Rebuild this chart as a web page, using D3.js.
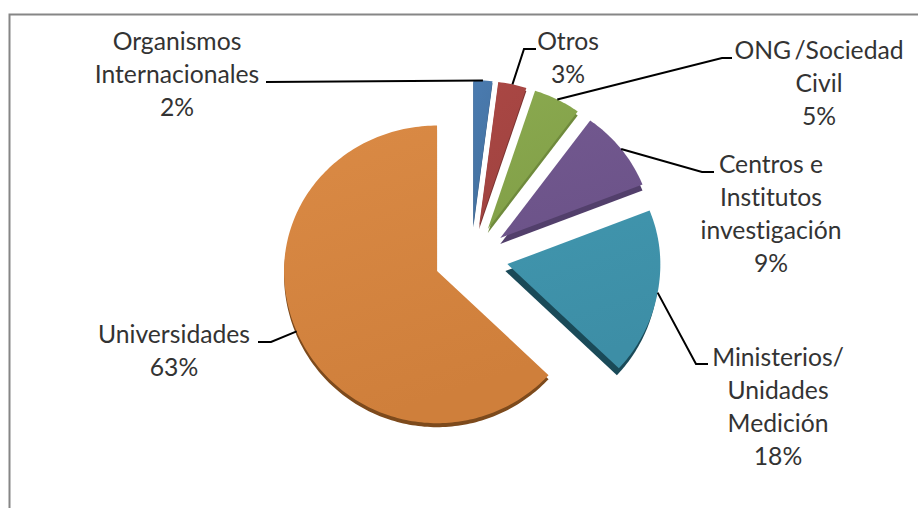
<!DOCTYPE html>
<html>
<head>
<meta charset="utf-8">
<script src="https://cdn.jsdelivr.net/npm/d3@7"></script>
<style>
  html, body { margin: 0; padding: 0; background: #fff; }
  svg { display: block; }
</style>
</head>
<body>
<div id="chart"></div>
<script>
const categories = ["Organismos Internacionales", "Otros", "ONG /Sociedad Civil", "Centros e Institutos investigación", "Ministerios/ Unidades Medición", "Universidades"];
const shares = [2, 3, 5, 9, 18, 63];
const colors_top = ["#4a7bb0", "#aa4744", "#8aa94f", "#72588f", "#4095ad", "#da8a45"];
const colors_bottom = ["#44719f", "#a04340", "#82a048", "#6c5389", "#3d8ea6", "#cf7f3b"];
const colors_side = ["#2f5078", "#7a3230", "#6f8a3c", "#523f6b", "#1a4a58", "#7d4a1c"];
const label_lines = [
    ["Organismos", "Internacionales", "2%"],
    ["Otros", "3%"],
    ["ONG /Sociedad", "Civil", "5%"],
    ["Centros e", "Institutos", "investigación", "9%"],
    ["Ministerios/", "Unidades", "Medición", "18%"],
    ["Universidades", "63%"]
];

const width = 918, height = 508;

const svg = d3.select("#chart")
    .append("svg")
    .attr("width", width)
    .attr("height", height);

// frame, only top and left show inside the crop
svg.append("path")
    .attr("d", "M9.5,508V14.5H918")
    .attr("fill", "none")
    .attr("stroke", "#868686")
    .attr("stroke-width", 2);

const cx = 471, cy = 258;
const radius = 153;
const explode = 37;
const depths = [2, 3, 4, 6, 7, 4];

// the pie is tilted: back half looks flatter than the front half
function project(angle, r) {
    const c = Math.cos(angle);
    const tilt = c > 0 ? 0.95 : 0.995;
    return [r * Math.sin(angle), -r * c * tilt];
}

const arcs = d3.pie().sort(null).value(d => d)(shares);

function slicePath(d) {
    const steps = Math.ceil((d.endAngle - d.startAngle) / 0.02);
    const angle = d3.scaleLinear().domain([0, steps]).range([d.startAngle, d.endAngle]);
    const pts = d3.range(steps + 1).map(i => project(angle(i), radius));
    return d3.line()([[0, 0], ...pts]) + "Z";
}

function offset(d) {
    const mid = (d.startAngle + d.endAngle) / 2;
    return [cx + explode * Math.sin(mid), cy - explode * Math.cos(mid) * 0.88];
}

function rim(d) {
    const o = offset(d);
    const p = project((d.startAngle + d.endAngle) / 2, radius);
    return [o[0] + p[0], o[1] + p[1]];
}

const defs = svg.append("defs");
arcs.forEach((d, i) => {
    const g = defs.append("linearGradient")
        .attr("id", "slice" + i)
        .attr("x1", 0).attr("y1", 0).attr("x2", 0.3).attr("y2", 1);
    g.append("stop").attr("offset", "0%").attr("stop-color", colors_top[i]);
    g.append("stop").attr("offset", "100%").attr("stop-color", colors_bottom[i]);
});

// side walls first, then the faces on top
const slices = svg.append("g")
    .selectAll("g")
    .data(arcs)
    .join("g")
    .attr("transform", d => `translate(${offset(d)})`);

slices.append("path")
    .attr("d", slicePath)
    .attr("transform", (d, i) => `translate(${i === 4 ? -2 : 0},${depths[i]})`)
    .attr("fill", (d, i) => colors_side[i]);

slices.append("path")
    .attr("d", slicePath)
    .attr("fill", (d, i) => `url(#slice${i})`);

// leader lines: elbow and end for each label
const elbows = [
    [[266, 82]],
    [[524, 49], [536, 49]],
    [[722, 58], [732, 58]],
    [[702, 172], [714, 172]],
    [[696, 364], [708, 364]],
    [[271, 342], [258, 342]]
];

svg.append("g")
    .selectAll("path")
    .data(arcs)
    .join("path")
    .attr("d", (d, i) => d3.line()([rim(d), ...elbows[i]]))
    .attr("fill", "none")
    .attr("stroke", "#000")
    .attr("stroke-width", 2);

// label block centres and first baselines
const label_pos = [[177, 50], [568, 50], [819, 59], [771, 173], [778, 366], [174, 343]];
const line_step = 33;

svg.append("g")
    .attr("font-family", "Lato, 'Open Sans', sans-serif")
    .attr("font-size", 24.7)
    .attr("fill", "#333")
    .attr("text-anchor", "middle")
    .style("font-variant-ligatures", "none")
    .selectAll("text")
    .data(label_lines)
    .join("text")
    .attr("transform", (d, i) => `translate(${label_pos[i]})`)
    .selectAll("tspan")
    .data(d => d)
    .join("tspan")
    .attr("x", 0)
    .attr("y", (d, i) => i * line_step)
    .style("word-spacing", d => d.startsWith("ONG") ? "-3px" : null)
    .text(d => d);
</script>
</body>
</html>
